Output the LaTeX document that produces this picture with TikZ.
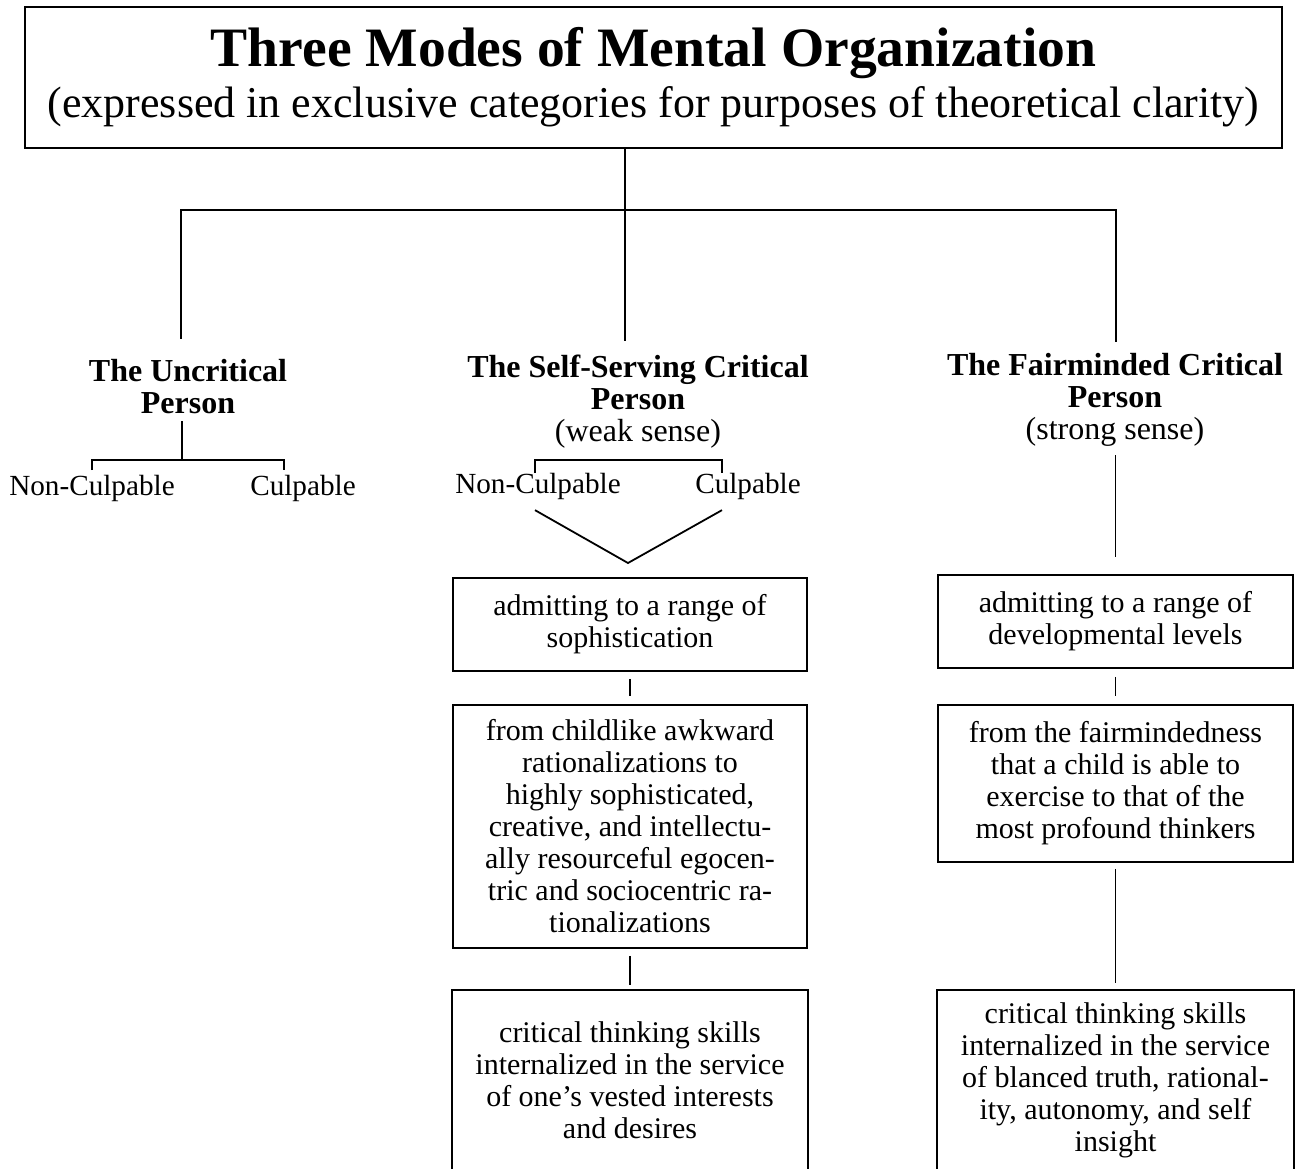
\documentclass[tikz,border=0pt]{standalone}
\usepackage{fontspec}
\setmainfont{Liberation Serif}
\usetikzlibrary{positioning}

\begin{document}
\begin{tikzpicture}[x=0.5pt, y=-0.5pt, line width=0.9pt,
						head/.style={align=center, inner sep=0pt, font=\fontsize{16pt}{16pt}\selectfont\bfseries},
						leaf/.style={inner sep=0pt, font=\fontsize{14.6pt}{16pt}\selectfont},
						stage/.style={draw, align=center, inner sep=0pt, minimum width=177pt, font=\fontsize{15pt}{16pt}\selectfont},
						open stage/.style={stage, draw=none, anchor=north}]
	\useasboundingbox (0,0) rectangle (1298,1169);

	\node[draw, align=center, minimum width=628.5pt, minimum height=70.5pt] (title) at (653.5,77.5)
		{{\fontsize{27.8pt}{30pt}\selectfont\bfseries Three Modes of Mental Organization}\\[3pt]
		 {\fontsize{22pt}{24pt}\selectfont (expressed in exclusive categories for purposes of theoretical clarity)}};

	\node[head] (uncrit) at (188,387) {The Uncritical\\Person};
	\node[head] (selfserv) at (638,402) {The Self-Serving Critical\\Person\\{\mdseries (weak sense)}};
	\node[head] (fair) at (1115,400) {The Fairminded Critical\\Person\\{\mdseries (strong sense)}};

	\coordinate (colU) at (181,210);
	\coordinate (colS) at (625,210);
	\coordinate (colF) at (1116,210);
	\draw[shorten >=6.5pt] (colS |- title.south) -- (colS |- selfserv.north);
	\draw[shorten <=10pt, shorten >=5.5pt] (colU |- uncrit.north) -- (colU) -- (colF) -- (colF |- fair.north);

	\node[leaf] (uNC) at (92,488) {Non-Culpable};
	\node[leaf] (uC) at (303,488) {Culpable};
	\coordinate (uFork) at (182,460);
	\coordinate (uL) at (92,470);
	\coordinate (uR) at (284,470);
	\draw[shorten <=3pt] (uFork |- uncrit.south) -- (uFork);
	\draw (uL) |- (uFork) -| (uR);

	\node[leaf] (sNC) at (538,486) {Non-Culpable};
	\node[leaf] (sC) at (748,486) {Culpable};
	\coordinate (sBar) at (628,460);
	\coordinate (sL) at (535,473);
	\coordinate (sR) at (722,473);
	\coordinate (sApex) at (628,563);
	\draw (sL) |- (sBar) -| (sR);
	\draw ([yshift=-5pt]sNC.south -| sL) -- (sApex) -- ([yshift=-5pt]sC.south -| sR);

	\node[stage, minimum height=46.5pt] (rangeS) at (630,624.5) {admitting to a range of\\sophistication};
	\node[stage, minimum height=121.5pt] (spanS) at (630,826.5)
		{from childlike awkward\\rationalizations to\\highly sophisticated,\\creative, and intellectu-\\ally resourceful egocen-\\tric and sociocentric ra-\\tionalizations};
	\node[open stage, minimum height=89.5pt] (servS) at (630,990)
		{critical thinking skills\\internalized in the service\\of one's vested interests\\and desires};
	\draw (servS.south west) |- (servS.north east) -- (servS.south east);

	\node[stage, minimum width=177.5pt, minimum height=46.5pt] (rangeF) at (1115.5,621.5) {admitting to a range of\\developmental levels};
	\node[stage, minimum width=177.5pt, minimum height=78.5pt] (spanF) at (1115.5,783.5)
		{from the fairmindedness\\that a child is able to\\exercise to that of the\\most profound thinkers};
	\node[open stage, minimum width=177.5pt, minimum height=89.5pt] (servF) at (1115.5,990)
		{critical thinking skills\\internalized in the service\\of blanced truth, rational-\\ity, autonomy, and self\\insight};
	\draw (servF.south west) |- (servF.north east) -- (servF.south east);

	\draw[shorten <=3.5pt, shorten >=4pt] (rangeS) -- (spanS);
	\draw[shorten <=3.5pt, shorten >=2.5pt] (spanS) -- (servS);
	\draw[shorten <=4pt, shorten >=8.5pt] (fair.south -| rangeF) -- (rangeF);
	\draw[shorten <=4pt, shorten >=4pt] (rangeF) -- (spanF);
	\draw[shorten <=3pt, shorten >=3.5pt] (spanF) -- (servF);
\end{tikzpicture}
\end{document}
